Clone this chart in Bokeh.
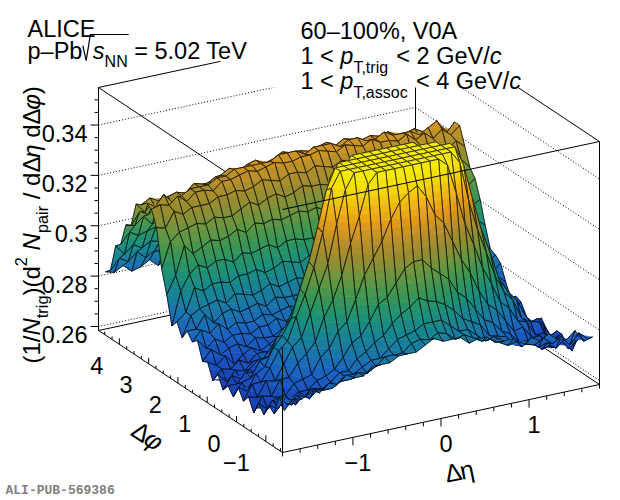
import numpy as np
from bokeh.plotting import figure
from bokeh.models import Range1d, ColumnDataSource
from bokeh.core.properties import value, field
from bokeh.embed import file_html
from bokeh.resources import INLINE

# ---- data: bin centres and per-trigger pair yield ----
deta = [-1.75, -1.65, -1.55, -1.45, -1.35, -1.25, -1.15, -1.05, -0.95, -0.85, -0.75, -0.65,
        -0.55, -0.45, -0.35, -0.25, -0.15, -0.05, 0.05, 0.15, 0.25, 0.35, 0.45, 0.55,
        0.65, 0.75, 0.85, 0.95, 1.05, 1.15, 1.25, 1.35, 1.45, 1.55, 1.65, 1.75]
dphi_deg = [-85, -75, -65, -55, -45, -35, -25, -15, -5, 5, 15, 25, 35, 45, 55, 65, 75, 85,
            95, 105, 115, 125, 135, 145, 155, 165, 175, 185, 195, 205, 215, 225, 235, 245,
            255, 265]

# one list per dphi bin, values along deta
yield_m85 = [0.274, 0.278, 0.277, 0.280, 0.278, 0.281, 0.280, 0.283, 0.281, 0.281, 0.284, 0.284, 0.284, 0.286, 0.286, 0.286, 0.288, 0.290, 0.288, 0.288, 0.288, 0.285, 0.286, 0.286, 0.283, 0.283, 0.283, 0.279, 0.282, 0.280, 0.282, 0.279, 0.278, 0.281, 0.276, 0.277]
yield_m75 = [0.278, 0.274, 0.277, 0.276, 0.278, 0.277, 0.277, 0.279, 0.279, 0.281, 0.280, 0.282, 0.285, 0.285, 0.285, 0.288, 0.289, 0.288, 0.290, 0.289, 0.286, 0.287, 0.285, 0.283, 0.283, 0.281, 0.279, 0.280, 0.278, 0.277, 0.279, 0.276, 0.278, 0.274, 0.278, 0.275]
yield_m65 = [0.270, 0.274, 0.272, 0.276, 0.273, 0.276, 0.276, 0.276, 0.279, 0.279, 0.281, 0.283, 0.283, 0.286, 0.289, 0.290, 0.291, 0.293, 0.293, 0.293, 0.290, 0.287, 0.287, 0.284, 0.281, 0.282, 0.279, 0.278, 0.276, 0.277, 0.274, 0.275, 0.272, 0.275, 0.272, 0.275]
yield_m55 = [0.272, 0.270, 0.274, 0.270, 0.273, 0.275, 0.274, 0.276, 0.279, 0.279, 0.283, 0.285, 0.288, 0.290, 0.294, 0.297, 0.299, 0.302, 0.300, 0.299, 0.297, 0.294, 0.290, 0.288, 0.286, 0.281, 0.280, 0.279, 0.275, 0.275, 0.275, 0.271, 0.272, 0.274, 0.269, 0.272]
yield_m45 = [0.267, 0.272, 0.269, 0.271, 0.273, 0.273, 0.276, 0.277, 0.279, 0.283, 0.288, 0.290, 0.295, 0.301, 0.303, 0.308, 0.313, 0.315, 0.315, 0.311, 0.308, 0.305, 0.299, 0.296, 0.291, 0.286, 0.284, 0.280, 0.278, 0.274, 0.274, 0.273, 0.270, 0.269, 0.271, 0.266]
yield_m35 = [0.270, 0.267, 0.271, 0.271, 0.275, 0.276, 0.277, 0.283, 0.286, 0.292, 0.295, 0.303, 0.312, 0.318, 0.324, 0.332, 0.338, 0.341, 0.343, 0.338, 0.330, 0.326, 0.318, 0.310, 0.304, 0.296, 0.290, 0.287, 0.282, 0.277, 0.278, 0.273, 0.273, 0.268, 0.271, 0.267]
yield_m25 = [0.265, 0.271, 0.270, 0.276, 0.276, 0.281, 0.284, 0.288, 0.297, 0.303, 0.312, 0.324, 0.334, 0.346, 0.358, 0.367, 0.376, 0.384, 0.384, 0.378, 0.367, 0.356, 0.347, 0.335, 0.322, 0.313, 0.303, 0.296, 0.288, 0.285, 0.279, 0.278, 0.272, 0.272, 0.269, 0.270]
yield_m15 = [0.270, 0.269, 0.275, 0.274, 0.280, 0.286, 0.289, 0.298, 0.307, 0.316, 0.331, 0.344, 0.360, 0.375, 0.390, 0.406, 0.418, 0.430, 0.428, 0.418, 0.406, 0.390, 0.375, 0.360, 0.345, 0.329, 0.317, 0.307, 0.297, 0.290, 0.286, 0.278, 0.276, 0.275, 0.268, 0.270]
yield_m5 = [0.267, 0.273, 0.273, 0.278, 0.284, 0.287, 0.296, 0.304, 0.314, 0.327, 0.344, 0.359, 0.380, 0.400, 0.415, 0.434, 0.451, 0.463, 0.463, 0.449, 0.434, 0.417, 0.398, 0.381, 0.360, 0.342, 0.328, 0.315, 0.305, 0.294, 0.288, 0.284, 0.277, 0.273, 0.272, 0.266]
yield_5 = [0.271, 0.269, 0.275, 0.277, 0.284, 0.288, 0.294, 0.305, 0.315, 0.328, 0.342, 0.360, 0.381, 0.399, 0.415, 0.435, 0.450, 0.462, 0.464, 0.450, 0.433, 0.417, 0.399, 0.379, 0.361, 0.343, 0.326, 0.316, 0.304, 0.294, 0.290, 0.282, 0.279, 0.272, 0.273, 0.268]
yield_15 = [0.266, 0.271, 0.272, 0.278, 0.279, 0.286, 0.290, 0.297, 0.307, 0.317, 0.330, 0.345, 0.359, 0.376, 0.391, 0.405, 0.417, 0.429, 0.429, 0.419, 0.405, 0.389, 0.377, 0.360, 0.343, 0.331, 0.317, 0.306, 0.297, 0.291, 0.284, 0.281, 0.274, 0.274, 0.269, 0.271]
yield_25 = [0.269, 0.269, 0.273, 0.272, 0.277, 0.281, 0.283, 0.289, 0.297, 0.302, 0.313, 0.323, 0.335, 0.345, 0.357, 0.368, 0.377, 0.385, 0.383, 0.377, 0.368, 0.357, 0.345, 0.335, 0.324, 0.311, 0.303, 0.297, 0.288, 0.284, 0.281, 0.275, 0.274, 0.273, 0.268, 0.269]
yield_35 = [0.266, 0.271, 0.269, 0.272, 0.275, 0.275, 0.279, 0.282, 0.285, 0.291, 0.297, 0.302, 0.311, 0.319, 0.324, 0.331, 0.339, 0.342, 0.342, 0.337, 0.331, 0.326, 0.317, 0.312, 0.303, 0.295, 0.292, 0.286, 0.283, 0.277, 0.276, 0.275, 0.271, 0.269, 0.270, 0.265]
yield_45 = [0.271, 0.267, 0.271, 0.270, 0.273, 0.273, 0.274, 0.278, 0.280, 0.284, 0.285, 0.290, 0.296, 0.300, 0.303, 0.309, 0.312, 0.314, 0.316, 0.312, 0.307, 0.305, 0.300, 0.294, 0.291, 0.286, 0.282, 0.281, 0.277, 0.274, 0.275, 0.271, 0.272, 0.268, 0.271, 0.268]
yield_55 = [0.267, 0.271, 0.270, 0.273, 0.271, 0.274, 0.274, 0.274, 0.278, 0.279, 0.281, 0.285, 0.286, 0.290, 0.294, 0.295, 0.297, 0.300, 0.300, 0.299, 0.295, 0.292, 0.291, 0.287, 0.283, 0.282, 0.279, 0.277, 0.274, 0.275, 0.272, 0.273, 0.269, 0.272, 0.269, 0.272]
yield_65 = [0.273, 0.271, 0.274, 0.270, 0.273, 0.275, 0.273, 0.275, 0.277, 0.277, 0.280, 0.281, 0.283, 0.284, 0.287, 0.290, 0.290, 0.293, 0.291, 0.290, 0.290, 0.287, 0.284, 0.283, 0.282, 0.278, 0.278, 0.277, 0.274, 0.274, 0.275, 0.271, 0.272, 0.274, 0.270, 0.273]
yield_75 = [0.272, 0.276, 0.273, 0.275, 0.276, 0.274, 0.277, 0.276, 0.276, 0.278, 0.280, 0.279, 0.282, 0.284, 0.283, 0.285, 0.288, 0.287, 0.287, 0.286, 0.285, 0.285, 0.282, 0.283, 0.280, 0.278, 0.279, 0.277, 0.277, 0.275, 0.275, 0.276, 0.274, 0.273, 0.275, 0.271]
yield_85 = [0.279, 0.275, 0.278, 0.276, 0.278, 0.278, 0.277, 0.279, 0.279, 0.281, 0.279, 0.281, 0.283, 0.283, 0.283, 0.286, 0.286, 0.285, 0.287, 0.286, 0.284, 0.285, 0.283, 0.281, 0.282, 0.280, 0.279, 0.280, 0.278, 0.277, 0.280, 0.276, 0.278, 0.275, 0.279, 0.276]
yield_95 = [0.277, 0.281, 0.279, 0.282, 0.279, 0.281, 0.280, 0.280, 0.282, 0.281, 0.282, 0.283, 0.282, 0.284, 0.285, 0.285, 0.284, 0.286, 0.286, 0.286, 0.285, 0.283, 0.285, 0.283, 0.281, 0.283, 0.281, 0.281, 0.280, 0.281, 0.279, 0.281, 0.278, 0.281, 0.279, 0.282]
yield_105 = [0.280, 0.280, 0.285, 0.281, 0.284, 0.285, 0.283, 0.284, 0.285, 0.283, 0.286, 0.285, 0.285, 0.285, 0.286, 0.288, 0.287, 0.288, 0.286, 0.287, 0.288, 0.286, 0.285, 0.285, 0.286, 0.284, 0.284, 0.285, 0.283, 0.284, 0.285, 0.282, 0.283, 0.285, 0.281, 0.284]
yield_115 = [0.276, 0.284, 0.286, 0.287, 0.288, 0.286, 0.289, 0.288, 0.287, 0.288, 0.290, 0.288, 0.289, 0.290, 0.289, 0.290, 0.291, 0.290, 0.290, 0.289, 0.290, 0.291, 0.289, 0.290, 0.289, 0.288, 0.290, 0.289, 0.289, 0.287, 0.288, 0.289, 0.287, 0.287, 0.289, 0.285]
yield_125 = [0.281, 0.284, 0.293, 0.291, 0.293, 0.293, 0.292, 0.294, 0.294, 0.295, 0.293, 0.294, 0.296, 0.295, 0.294, 0.296, 0.295, 0.294, 0.296, 0.295, 0.294, 0.296, 0.295, 0.294, 0.296, 0.295, 0.293, 0.295, 0.294, 0.293, 0.296, 0.293, 0.295, 0.292, 0.296, 0.293]
yield_135 = [0.278, 0.291, 0.297, 0.300, 0.298, 0.300, 0.300, 0.298, 0.301, 0.300, 0.301, 0.302, 0.300, 0.302, 0.302, 0.301, 0.301, 0.302, 0.302, 0.303, 0.302, 0.301, 0.303, 0.302, 0.301, 0.303, 0.302, 0.301, 0.300, 0.303, 0.300, 0.302, 0.299, 0.302, 0.300, 0.302]
yield_145 = [0.289, 0.296, 0.307, 0.303, 0.305, 0.307, 0.306, 0.307, 0.309, 0.307, 0.310, 0.309, 0.310, 0.309, 0.310, 0.311, 0.310, 0.311, 0.309, 0.310, 0.311, 0.310, 0.309, 0.310, 0.311, 0.309, 0.310, 0.311, 0.309, 0.310, 0.310, 0.307, 0.309, 0.311, 0.306, 0.309]
yield_155 = [0.298, 0.308, 0.311, 0.312, 0.313, 0.312, 0.314, 0.313, 0.313, 0.315, 0.317, 0.315, 0.317, 0.318, 0.316, 0.317, 0.319, 0.318, 0.318, 0.317, 0.318, 0.319, 0.317, 0.319, 0.318, 0.317, 0.318, 0.317, 0.318, 0.316, 0.316, 0.317, 0.315, 0.315, 0.316, 0.312]
yield_165 = [0.313, 0.312, 0.318, 0.316, 0.318, 0.318, 0.318, 0.320, 0.320, 0.321, 0.320, 0.321, 0.323, 0.322, 0.321, 0.323, 0.323, 0.322, 0.324, 0.323, 0.322, 0.324, 0.323, 0.322, 0.324, 0.323, 0.321, 0.323, 0.322, 0.321, 0.323, 0.320, 0.322, 0.319, 0.322, 0.319]
yield_175 = [0.319, 0.320, 0.319, 0.322, 0.319, 0.322, 0.322, 0.321, 0.324, 0.324, 0.325, 0.326, 0.325, 0.326, 0.327, 0.326, 0.326, 0.327, 0.327, 0.328, 0.327, 0.326, 0.328, 0.327, 0.326, 0.328, 0.326, 0.326, 0.325, 0.327, 0.324, 0.326, 0.323, 0.326, 0.323, 0.326]
yield_185 = [0.320, 0.318, 0.322, 0.318, 0.320, 0.322, 0.322, 0.322, 0.324, 0.324, 0.326, 0.326, 0.326, 0.326, 0.326, 0.328, 0.328, 0.328, 0.326, 0.328, 0.328, 0.328, 0.326, 0.328, 0.328, 0.326, 0.326, 0.328, 0.326, 0.326, 0.326, 0.324, 0.326, 0.328, 0.322, 0.326]
yield_195 = [0.318, 0.320, 0.318, 0.319, 0.320, 0.319, 0.322, 0.321, 0.321, 0.323, 0.325, 0.323, 0.325, 0.326, 0.324, 0.325, 0.327, 0.326, 0.326, 0.325, 0.326, 0.327, 0.325, 0.327, 0.326, 0.325, 0.326, 0.325, 0.326, 0.324, 0.324, 0.325, 0.323, 0.323, 0.324, 0.320]
yield_205 = [0.317, 0.313, 0.317, 0.315, 0.317, 0.317, 0.317, 0.319, 0.319, 0.321, 0.320, 0.321, 0.322, 0.321, 0.320, 0.322, 0.322, 0.321, 0.323, 0.322, 0.321, 0.323, 0.322, 0.321, 0.323, 0.322, 0.320, 0.322, 0.321, 0.320, 0.322, 0.320, 0.322, 0.318, 0.322, 0.319]
yield_215 = [0.307, 0.312, 0.310, 0.313, 0.310, 0.313, 0.313, 0.312, 0.315, 0.314, 0.315, 0.316, 0.315, 0.316, 0.317, 0.316, 0.315, 0.316, 0.316, 0.317, 0.316, 0.315, 0.317, 0.316, 0.315, 0.317, 0.316, 0.316, 0.315, 0.317, 0.314, 0.316, 0.313, 0.316, 0.313, 0.316]
yield_225 = [0.306, 0.305, 0.308, 0.304, 0.306, 0.308, 0.306, 0.307, 0.309, 0.307, 0.310, 0.309, 0.309, 0.308, 0.309, 0.310, 0.310, 0.311, 0.309, 0.310, 0.311, 0.310, 0.309, 0.310, 0.311, 0.309, 0.309, 0.310, 0.308, 0.309, 0.310, 0.307, 0.309, 0.311, 0.306, 0.309]
yield_235 = [0.297, 0.301, 0.299, 0.300, 0.301, 0.299, 0.301, 0.300, 0.300, 0.301, 0.302, 0.300, 0.301, 0.302, 0.300, 0.301, 0.303, 0.302, 0.302, 0.301, 0.302, 0.303, 0.301, 0.303, 0.302, 0.301, 0.302, 0.301, 0.302, 0.300, 0.301, 0.302, 0.300, 0.300, 0.302, 0.298]
yield_245 = [0.295, 0.291, 0.294, 0.292, 0.294, 0.293, 0.292, 0.294, 0.294, 0.295, 0.293, 0.294, 0.295, 0.294, 0.293, 0.295, 0.294, 0.293, 0.295, 0.294, 0.293, 0.295, 0.294, 0.293, 0.295, 0.294, 0.293, 0.295, 0.294, 0.293, 0.296, 0.293, 0.295, 0.292, 0.296, 0.293]
yield_255 = [0.284, 0.288, 0.286, 0.289, 0.286, 0.288, 0.287, 0.286, 0.288, 0.287, 0.287, 0.288, 0.286, 0.287, 0.288, 0.287, 0.286, 0.287, 0.287, 0.288, 0.287, 0.286, 0.288, 0.287, 0.286, 0.288, 0.287, 0.287, 0.286, 0.288, 0.286, 0.288, 0.285, 0.288, 0.286, 0.289]
yield_265 = [0.282, 0.281, 0.283, 0.280, 0.281, 0.283, 0.280, 0.282, 0.282, 0.281, 0.283, 0.281, 0.282, 0.280, 0.282, 0.282, 0.281, 0.283, 0.280, 0.282, 0.282, 0.281, 0.281, 0.282, 0.283, 0.280, 0.282, 0.282, 0.281, 0.281, 0.283, 0.279, 0.282, 0.283, 0.280, 0.282]

hist_max = 0.350          # the surface is cut flat at this value

z_ticks = [0.26, 0.28, 0.30, 0.32, 0.34]
z_tick_labels = ["0.26", "0.28", "0.3", "0.32", "0.34"]
phi_ticks = [-1, 0, 1, 2, 3, 4]
phi_tick_labels = ["\u22121", "0", "1", "2", "3", "4"]
eta_ticks = [-1, 0, 1]
eta_tick_labels = ["\u22121", "0", "1"]

# ---- axis ranges and the 3d view ----
eta_lo, eta_hi = -1.8, 1.8
phi_lo, phi_hi = -np.pi / 2, 3 * np.pi / 2
z_lo, z_hi = 0.2584, 0.3549

X0, Y0 = 98.0, 330.0      # screen spot of (eta_lo, phi_hi, z_lo)
EU = (317.0, -68.0)       # screen vector for the whole deta range
EV = (184.0, 122.0)       # screen vector for the whole dphi range, back to front
EZ = 243.0                # screen height of the z range


def proj_n(u, v, w):
    return X0 + EU[0] * u + EV[0] * v, Y0 + EU[1] * u + EV[1] * v - EZ * w


def norm(eta, phi, z):
    return ((np.asarray(eta) - eta_lo) / (eta_hi - eta_lo),
            (phi_hi - np.asarray(phi)) / (phi_hi - phi_lo),
            (np.asarray(z) - z_lo) / (z_hi - z_lo))


def proj(eta, phi, z):
    return proj_n(*norm(eta, phi, z))


PALETTE = ["#0d1f8f", "#1537a8", "#1a4dbd", "#1a62c0", "#1a76a8", "#178690",
           "#1f9270", "#3e9652", "#6a9640", "#948c32", "#b8902a", "#e09a1a",
           "#f2b812", "#f3dc08", "#f5f000"]
anch = np.array([[int(h[k:k + 2], 16) for k in (1, 3, 5)] for h in PALETTE], float)
anch_pos = np.linspace(0, 1, len(PALETTE))


def colour(f):
    r, g, b = (np.interp(f, anch_pos, anch[:, m]) for m in range(3))
    return "#%02x%02x%02x" % (int(round(r)), int(round(g)), int(round(b)))


def clip(poly, lo, hi):
    def cut(pts, inside, level):
        out = []
        for k in range(len(pts)):
            a, b = pts[k], pts[(k + 1) % len(pts)]
            ia, ib = inside(a[2]), inside(b[2])
            if ia:
                out.append(a)
            if ia != ib:
                t = (level - a[2]) / (b[2] - a[2])
                out.append(tuple(a[m] + t * (b[m] - a[m]) for m in range(3)))
        return out
    pts = cut(poly, lambda z: z >= lo, lo)
    if len(pts) >= 3:
        pts = cut(pts, lambda z: z <= hi, hi)
    return pts


p = figure(width=620, height=500, x_range=Range1d(0, 620), y_range=Range1d(500, 0),
           output_backend="svg", toolbar_location=None, min_border=0,
           x_axis_location=None, y_axis_location=None)
p.grid.visible = False
p.outline_line_color = None


def seg(lst, a, b):
    xa, ya = proj_n(*a)
    xb, yb = proj_n(*b)
    lst.append((xa, ya, xb, yb))


def draw(lst, **kw):
    if lst:
        x0, y0, x1, y1 = zip(*lst)
        p.segment(list(x0), list(y0), list(x1), list(y1), **kw)


# ---- back part of the box ----
back, dots, ticks = [], [], []
seg(back, (0, 0, 0), (0, 0, 1))
seg(back, (0, 0, 0), (1, 0, 0))
seg(back, (1, 0, 0), (1, 0, 1))
seg(back, (1, 0, 0), (1, 1, 0))
seg(back, (0, 0, 1), (1, 0, 1))
seg(back, (1, 0, 1), (1, 1, 1))
seg(back, (0, 0, 1), (0, 1, 1))
seg(back, (0, 0, 0), (0, 1, 0))
seg(back, (0, 1, 0), (1, 1, 0))
for zt in z_ticks:
    w = norm(0, 0, zt)[2]
    seg(dots, (0, 0, w), (1, 0, w))
    seg(dots, (1, 0, w), (1, 1, w))

for zt in np.arange(0.26, z_hi, 0.005):
    x, y = proj(eta_lo, phi_hi, zt)
    major = any(abs(zt - t) < 1e-6 for t in z_ticks)
    ticks.append((x, y, x - (8 if major else 4), y))
for ph in np.arange(-1.5, 4.6, 0.25):
    x, y = proj(eta_lo, ph, z_lo)
    ticks.append((x, y, x, y - (6 if abs(ph - round(ph)) < 1e-6 else 3)))
for et in np.arange(-1.8, 1.81, 0.2):
    x, y = proj(et, phi_lo, z_lo)
    ticks.append((x, y, x, y + (8 if abs(et - round(et)) < 1e-6 else 4)))

draw(back, line_color="black", line_width=1)
draw(dots, line_color="black", line_width=1, line_dash="1 2")
draw(ticks, line_color="black", line_width=1)

# white pad behind the upper-right legend
p.quad(left=220, right=620, top=0, bottom=87, fill_color="white", line_color=None)

# ---- surface, painted back to front, with colour bands ----
rows = [yield_m85, yield_m75, yield_m65, yield_m55, yield_m45, yield_m35, yield_m25,
        yield_m15, yield_m5, yield_5, yield_15, yield_25, yield_35, yield_45, yield_55,
        yield_65, yield_75, yield_85, yield_95, yield_105, yield_115, yield_125,
        yield_135, yield_145, yield_155, yield_165, yield_175, yield_185, yield_195,
        yield_205, yield_215, yield_225, yield_235, yield_245, yield_255, yield_265]
Z = np.minimum(np.array(rows), hist_max)
ETA, PHI = np.meshgrid(deta, np.radians(dphi_deg))
SX, SY = proj(ETA, PHI, Z)
U, V, _ = norm(ETA, PHI, Z)

n_lev = 30
levels = np.linspace(z_lo, hist_max, n_lev + 1)
band_col = [colour((k + 0.5) / n_lev) for k in range(n_lev)]

cells = []
for i in range(Z.shape[0] - 1):
    for j in range(Z.shape[1] - 1):
        uc = (U[i, j] + U[i + 1, j + 1]) / 2
        vc = (V[i, j] + V[i + 1, j + 1]) / 2
        cells.append((-180 * uc + 324 * vc, i, j))
cells.sort()

surf = dict(xs=[], ys=[], fc=[], fa=[], lc=[], lw=[])
for _, i, j in cells:
    idx = [(i, j), (i, j + 1), (i + 1, j + 1), (i + 1, j)]
    poly = [(SX[a, b], SY[a, b], Z[a, b]) for a, b in idx]
    zs = [q[2] for q in poly]
    for k in range(n_lev):
        if levels[k + 1] < min(zs) or levels[k] > max(zs):
            continue
        pts = clip(poly, levels[k], levels[k + 1])
        if len(pts) >= 3:
            surf["xs"].append([q[0] for q in pts])
            surf["ys"].append([q[1] for q in pts])
            surf["fc"].append(band_col[k])
            surf["fa"].append(1.0)
            surf["lc"].append(band_col[k])
            surf["lw"].append(0.6)
    surf["xs"].append([q[0] for q in poly])
    surf["ys"].append([q[1] for q in poly])
    surf["fc"].append("white")
    surf["fa"].append(0.0)
    surf["lc"].append("black")
    surf["lw"].append(0.75)

p.patches("xs", "ys", source=ColumnDataSource(surf), fill_color="fc", fill_alpha="fa",
          line_color="lc", line_width="lw")

# ---- front edges of the box ----
front = []
seg(front, (0, 1, 1), (1, 1, 1))
seg(front, (1, 1, 0), (1, 1, 1))
seg(front, (0, 1, 0), (0, 1, norm(0, 0, 0.30)[2]))
draw(front, line_color="black", line_width=1)

# ---- texts ----
CW = {' ': .278, '(': .333, ')': .333, '/': .278, '.': .278, ',': .278, '%': .889,
      '\u2013': .556, '\u2212': .584, '=': .584, '<': .584, 'A': .667, 'C': .722,
      'E': .667, 'G': .778, 'I': .278, 'L': .556, 'N': .722, 'P': .667, 'T': .611,
      'V': .667, 'a': .556, 'b': .556, 'c': .5, 'd': .556, 'e': .556, 'g': .556,
      'i': .222, 'o': .556, 'p': .556, 'r': .333, 's': .5, 't': .278, 'v': .5,
      '\u0394': .612, '\u03b7': .556, '\u03c6': .65}
txt = dict(x=[], y=[], text=[], angle=[], size=[], style=[], align=[])


def width(s, size):
    return sum(CW.get(ch, 0.556) for ch in s) * size


def put(x, y, s, size, style="normal", angle=0.0, align="left"):
    txt["x"].append(x)
    txt["y"].append(y)
    txt["text"].append(s)
    txt["angle"].append(angle)
    txt["size"].append("%.1fpx" % size)
    txt["style"].append(style)
    txt["align"].append(align)


def rich(x, y, parts, size, angle=0.0, sub_shift=0.45):
    adv = np.array([np.cos(angle), -np.sin(angle)])
    down = np.array([np.sin(angle), np.cos(angle)])
    pos = np.array([x, y], float)
    spans = []
    for s, kind in parts:
        if kind == "gap":
            spans.append((pos[0], pos[0] + s))
            pos = pos + adv * s
            continue
        small = kind in ("sub", "sup")
        fs = size * (0.68 if small else 1.0)
        shift = {"sub": sub_shift, "sup": -0.45}.get(kind, 0.0) * size
        lead = width(s[:len(s) - len(s.lstrip(" "))], fs)
        q = pos + down * shift + adv * lead
        put(q[0], q[1], s.strip(" "), fs, "italic" if kind == "i" else "normal", angle)
        w = width(s, fs)
        spans.append((pos[0], pos[0] + w))
        pos = pos + adv * w
    return spans


def rich_centred(cx, cy, parts, size, angle=0.0):
    total = sum(width(s, size * (0.68 if k in ("sub", "sup") else 1.0)) for s, k in parts)
    adv = np.array([np.cos(angle), -np.sin(angle)])
    down = np.array([np.sin(angle), np.cos(angle)])
    start = np.array([cx, cy]) - adv * total / 2 + down * 0.35 * size
    rich(start[0], start[1], parts, size, angle)


FS = 23.5
put(27, 28, "ALICE", FS)
sp = rich(27, 50, [("p\u2013Pb", "n"), (0.5, "gap"), (10.0, "gap"), ("s", "i"),
                   ("NN", "sub"), (" = 5.02 TeV", "n")], FS)
xr = sp[2][0]
p.line([xr, xr + 3.3, xr + 7.5, sp[4][1] + 1],
       [50 - 0.21 * FS, 50 + 0.43 * FS, 50 - 0.68 * FS, 50 - 0.68 * FS],
       line_color="black", line_width=1.2)

put(300, 30, "60\u2013100%, V0A", FS)
rich(300, 55, [("1 < ", "n"), ("p", "i"), ("T,trig", "sub"), (" < 2 GeV/", "n"),
               ("c", "i")], FS, sub_shift=0.5)
rich(300, 80, [("1 < ", "n"), ("p", "i"), ("T,assoc", "sub"), (" < 4 GeV/", "n"),
               ("c", "i")], FS, sub_shift=0.5)

rich(31, 363, [("(1/", "n"), ("N", "i"), ("trig", "sub"), (")(d", "n"), ("2", "sup"),
               (" N", "i"), ("pair", "sub"), (" / d", "n"), ("\u0394", "n"),
               ("\u03b7", "i"), (" d", "n"), ("\u0394", "n"), ("\u03c6", "i"),
               (")", "n")], 24, np.pi / 2)

for zt, lab in zip(z_ticks, z_tick_labels):
    x, y = proj(eta_lo, phi_hi, zt)
    put(x - 11, y + 8, lab, FS, align="right")
for ph, lab in zip(phi_ticks, phi_tick_labels):
    x, y = proj(eta_lo, ph, z_lo)
    put(x - 16, y + 21, lab, FS, align="right")
for et, lab in zip(eta_ticks, eta_tick_labels):
    x, y = proj(et, phi_lo, z_lo)
    put(x + 5, y + 25, lab, FS, align="center")

rich_centred(152, 428, [("\u0394", "n"), ("\u03c6", "i")], 25, -0.585)
rich_centred(457, 462, [("\u0394", "n"), ("\u03b7", "n")], 25, 0.2)

p.text(x="x", y="y", text="text", angle="angle", source=ColumnDataSource(txt),
       text_font=value("Liberation Sans"), text_font_size=field("size"),
       text_font_style=field("style"), text_align=field("align"),
       text_baseline="alphabetic", text_color="black")

p.text(x=[5], y=[490], text=["ALI-PUB-569386"], text_font=value("Liberation Mono"),
       text_font_size="13px", text_font_style="bold", text_color="#808080",
       text_baseline="alphabetic")

open("out.html", "w").write(file_html(p, INLINE))
